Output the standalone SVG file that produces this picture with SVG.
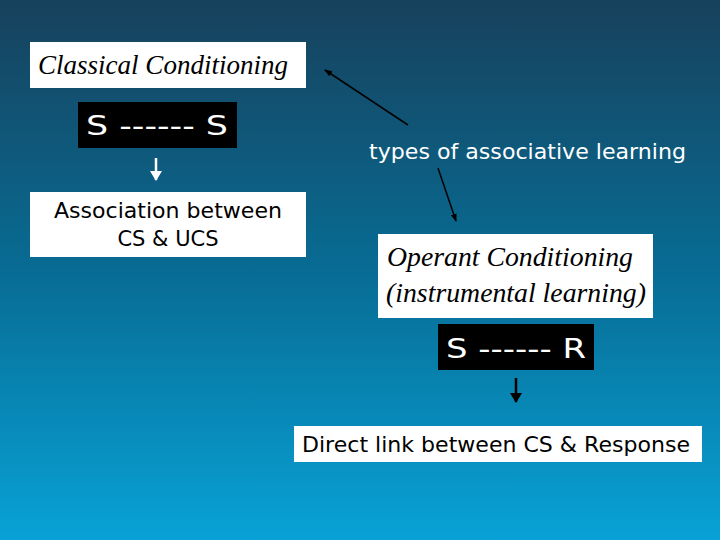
<svg xmlns="http://www.w3.org/2000/svg" width="720" height="540" viewBox="0 0 720 540">
<defs>
<linearGradient id="bg" x1="0" y1="0" x2="0" y2="1">
<stop offset="0" stop-color="#17415c"/>
<stop offset="0.5" stop-color="#086c94"/>
<stop offset="1" stop-color="#08a2d6"/>
</linearGradient>
<marker id="ah" markerWidth="8" markerHeight="8" refX="7" refY="4" orient="auto" markerUnits="userSpaceOnUse">
<path d="M0,1 L8,4 L0,7 Z" fill="#000"/>
</marker>
<marker id="ahw" markerWidth="10" markerHeight="12" refX="9" refY="6" orient="auto" markerUnits="userSpaceOnUse">
<path d="M0,0 L10,6 L0,12 Z" fill="#fff"/>
</marker>
<marker id="ahb" markerWidth="10" markerHeight="12" refX="9" refY="6" orient="auto" markerUnits="userSpaceOnUse">
<path d="M0,0 L10,6 L0,12 Z" fill="#000"/>
</marker>
</defs>
<style>
.wbox{fill:#fff}
.bbox{fill:#000}
.title{font-family:"Liberation Serif",serif;font-style:italic;font-size:27px;fill:#000}
.body{font-family:"DejaVu Sans","Liberation Sans",sans-serif;font-size:21px;fill:#000}
.sx{font-family:"DejaVu Sans","Liberation Sans",sans-serif;font-size:27px;fill:#fff}
.lbl{font-family:"DejaVu Sans","Liberation Sans",sans-serif;font-size:21px;fill:#fff}
</style>
<rect width="720" height="540" fill="url(#bg)"/>
<g id="connectors">
<line x1="408" y1="125" x2="325" y2="70" stroke="#000" stroke-width="1.5" marker-end="url(#ah)"/>
<line x1="438" y1="168" x2="456" y2="221" stroke="#000" stroke-width="1.5" marker-end="url(#ah)"/>
<line x1="156" y1="158" x2="156" y2="180" stroke="#fff" stroke-width="2.5" marker-end="url(#ahw)"/>
<line x1="516" y1="378" x2="516" y2="402" stroke="#000" stroke-width="2.5" marker-end="url(#ahb)"/>
</g>
<g id="classical">
<rect class="wbox" x="30" y="42" width="276" height="46"/>
<text class="title" x="38" y="74" textLength="250" lengthAdjust="spacingAndGlyphs">Classical Conditioning</text>
</g>
<g id="ss">
<rect class="bbox" x="78" y="102" width="159" height="46"/>
<text class="sx" x="86" y="135" textLength="142" lengthAdjust="spacingAndGlyphs">S ------ S</text>
</g>
<g id="association">
<rect class="wbox" x="30" y="192" width="276" height="65"/>
<text class="body" x="168" y="218" text-anchor="middle" textLength="228" lengthAdjust="spacingAndGlyphs">Association between</text>
<text class="body" x="168" y="246" text-anchor="middle">CS &amp; UCS</text>
</g>
<g id="types">
<text class="lbl" x="369" y="159" textLength="317" lengthAdjust="spacingAndGlyphs">types of associative learning</text>
</g>
<g id="operant">
<rect class="wbox" x="378" y="234" width="275" height="84"/>
<text class="title" x="387" y="266" textLength="246" lengthAdjust="spacingAndGlyphs">Operant Conditioning</text>
<text class="title" x="386" y="302" textLength="260" lengthAdjust="spacingAndGlyphs">(instrumental learning)</text>
</g>
<g id="sr">
<rect class="bbox" x="438" y="324" width="156" height="46"/>
<text class="sx" x="446" y="358" textLength="140" lengthAdjust="spacingAndGlyphs">S ------ R</text>
</g>
<g id="direct">
<rect class="wbox" x="294" y="426" width="408" height="36"/>
<text class="body" x="302" y="452" textLength="388" lengthAdjust="spacingAndGlyphs">Direct link between CS &amp; Response</text>
</g>
</svg>
